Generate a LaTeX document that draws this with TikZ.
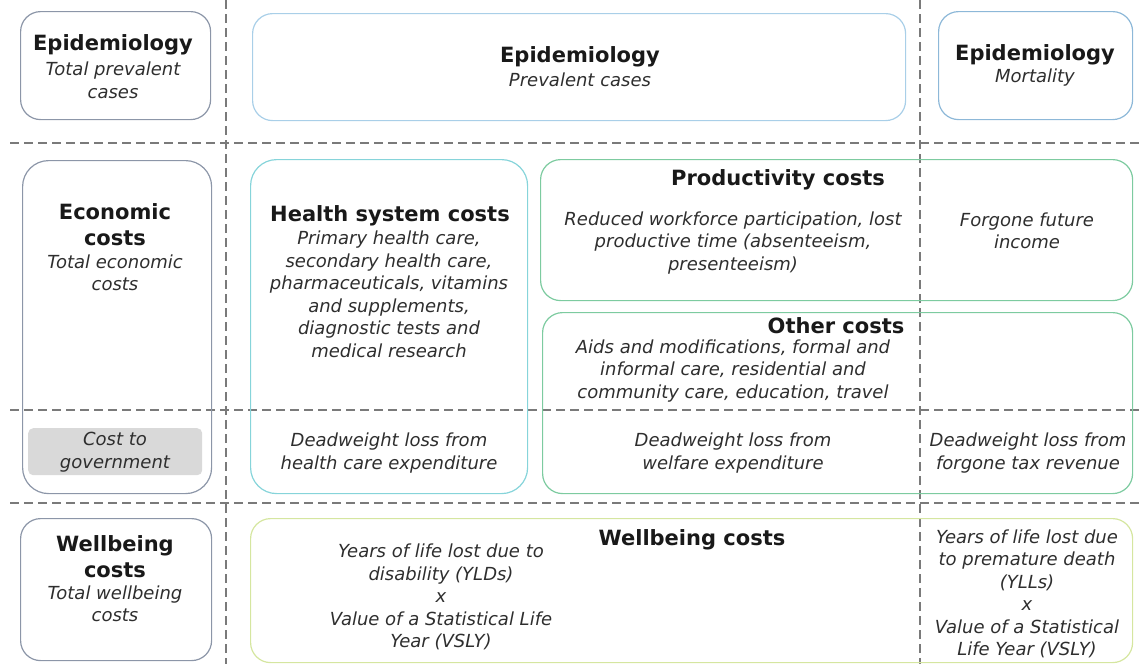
\documentclass[tikz,border=0pt]{standalone}
\usepackage{fontspec}
\setmainfont{DejaVu Sans}
\usetikzlibrary{positioning}
\definecolor{greyline}{HTML}{8C96A8}
\definecolor{epiblue}{HTML}{A9CFE8}
\definecolor{mortblue}{HTML}{8DB8D8}
\definecolor{healthteal}{HTML}{86D4DA}
\definecolor{prodgreen}{HTML}{7DCBA0}
\definecolor{wellgreen}{HTML}{D5E6A0}
\definecolor{dashgrey}{HTML}{7A7A7A}
\definecolor{govgrey}{HTML}{D9D9D9}
\definecolor{notegrey}{HTML}{2E2E2E}
\tikzset{
  panel/.style={draw=#1, line width=1.2pt, rounded corners=20pt, anchor=north west, inner sep=0pt},
  title/.style={font=\fontsize{21}{26}\selectfont\bfseries, align=center, text=black!90, inner sep=0pt},
  note/.style={font=\fontsize{18}{22.5}\selectfont\itshape, align=center, text=notegrey, inner sep=0pt},
  divider/.style={draw=dashgrey, line width=1.4pt, dash pattern=on 9pt off 5pt}
}
\begin{document}
\begin{tikzpicture}[x=1pt,y=-1pt]
\useasboundingbox (0,0) rectangle (1140,664);
% dividers
\draw[divider] (226,0) -- (226,664);
\draw[divider] (920,0) -- (920,664);
\foreach \yy in {143,410,503}
  \draw[divider] (10,\yy) -- (1140,\yy);
% epidemiology row
\node[panel=greyline, minimum width=190pt, minimum height=108pt] (epiTotalBox) at (20,11) {};
\node[panel=epiblue, minimum width=653pt, minimum height=107pt] (epiPrevBox) at (252,13) {};
\node[panel=mortblue, minimum width=194pt, minimum height=108pt] (epiMortBox) at (938,11) {};
\node[title] (epiTotal) at (113,45) {Epidemiology};
\node[note] (epiTotalNote) at (113,80.5) {Total prevalent\\cases};
\node[title] (epiPrev) at (580,57) {Epidemiology};
\node[note] (epiPrevNote) at (580,80) {Prevalent cases};
\node[title] (epiMort) at (1035,55) {Epidemiology};
\node[note] (epiMortNote) at (1035,78) {Mortality};
% economic costs row
\node[panel=greyline, rounded corners=26pt, minimum width=189pt, minimum height=333pt] (econBox) at (22,160) {};
\node[panel=healthteal, rounded corners=26pt, minimum width=277pt, minimum height=334pt] (healthBox) at (250,159) {};
\node[panel=prodgreen, minimum width=592pt, minimum height=141pt] (prodBox) at (540,159) {};
\node[panel=prodgreen, minimum width=590pt, minimum height=181pt] (otherBox) at (542,312) {};
\node[fill=govgrey, rounded corners=5pt, minimum width=174pt, minimum height=47pt, anchor=north west] (govBox) at (28,428) {};
\node[title] (econ) at (115,225) {Economic\\costs};
\node[note] (econNote) at (115,273) {Total economic\\costs};
\node[note] (gov) at (115,452) {Cost to\\government};
\node[title] (health) at (390,216) {Health system costs};
\node[note] (healthNote) at (389,294.5) {Primary health care,\\secondary health care,\\pharmaceuticals, vitamins\\and supplements,\\diagnostic tests and\\medical research};
\node[title] (prod) at (778,180) {Productivity costs};
\node[note] (prodNote) at (733,243) {Reduced workforce participation, lost\\productive time (absenteeism,\\presenteeism)};
\node[note] (forgone) at (1027,231) {Forgone future\\income};
\node[title] (other) at (836,326) {Other costs};
\node[note] (otherNote) at (733,371) {Aids and modifications, formal and\\informal care, residential and\\community care, education, travel};
\node[note] (dwHealth) at (389,453) {Deadweight loss from\\health care expenditure};
\node[note] (dwWelfare) at (733,453) {Deadweight loss from\\welfare expenditure};
\node[note] (dwTax) at (1028,453) {Deadweight loss from\\forgone tax revenue};
% wellbeing row
\node[panel=greyline, minimum width=191pt, minimum height=142pt] (wellTotalBox) at (20,518) {};
\node[panel=wellgreen, minimum width=882pt, minimum height=144pt] (wellBox) at (250,518) {};
\node[title] (wellTotal) at (115,557) {Wellbeing\\costs};
\node[note] (wellTotalNote) at (115,604) {Total wellbeing\\costs};
\node[title] (well) at (692,540) {Wellbeing costs};
\node[note] (yld) at (441,597) {Years of life lost due to\\disability (YLDs)\\x\\Value of a Statistical Life\\Year (VSLY)};
\node[note] (yll) at (1027,594) {Years of life lost due\\to premature death\\(YLLs)\\x\\Value of a Statistical\\Life Year (VSLY)};
\end{tikzpicture}
\end{document}
